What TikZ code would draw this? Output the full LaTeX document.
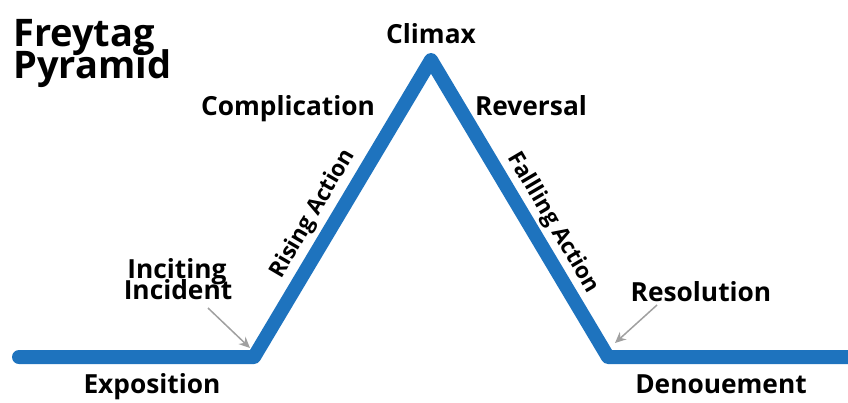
\documentclass[tikz,border=0pt]{standalone}
\usepackage{fontspec}
\setmainfont{Open Sans}
\usetikzlibrary{arrows.meta}
\definecolor{pyrblue}{RGB}{30,115,190}
\definecolor{arrgray}{RGB}{160,160,160}
\begin{document}
\begin{tikzpicture}[x=1pt,y=-1pt,
  lbl/.style={font=\fontsize{26.3}{30}\selectfont\bfseries, inner sep=0pt, text=black},
  rlbl/.style={font=\fontsize{22.5}{26}\selectfont\bfseries, inner sep=0pt, text=black},
  ttl/.style={font=\fontsize{38}{40}\selectfont\bfseries, inner sep=0pt, anchor=base west},
  pyr/.style={draw=pyrblue, line width=14pt, line join=round, line cap=round},
  ptr/.style={draw=arrgray, line width=1.5pt, -{Stealth[length=11pt,width=10pt]}}]
\useasboundingbox (0,0) rectangle (848,402);
% path points
\coordinate (L0) at (19,357);
\coordinate (LC) at (254,357);
\coordinate (P)  at (431,60);
\coordinate (RC) at (608,357);
\coordinate (R0) at (860,357);
\path[pyr] (L0) -- (LC) -- (P) -- (RC) -- (R0);
\useasboundingbox (0,0) rectangle (848,402);
% title
\node[ttl] (t1) at (13,46) {Freytag};
\node[ttl] (t2) at (13,78) {Pyramid};
% labels
\node[lbl, anchor=base] (climax) at (431,43) {Climax};
\node[lbl, anchor=base] (compl) at (288,115) {Complication};
\node[lbl, anchor=base] (rev) at (531,115) {Reversal};
\node[rlbl, rotate=59.5] (rise) at (313,214) {Rising Action};
\node[rlbl, rotate=-59.5] (fall) at (553,223) {Fallling Action};
\node[lbl, anchor=base] (inc1) at (177,278) {Inciting};
\node[lbl, anchor=base] (inc2) at (178,299) {Incident};
\node[lbl, anchor=base] (res) at (701,301) {Resolution};
\node[lbl, anchor=base] (expo) at (152,393) {Exposition};
\node[lbl, anchor=base] (den) at (721,393) {Denouement};
% arrows
\coordinate (ia) at (208,308);
\coordinate (ib) at (250,348);
\coordinate (ra) at (657,305);
\coordinate (rb) at (615,343);
\draw[ptr] (ia) -- (ib);
\draw[ptr] (ra) -- (rb);
\end{tikzpicture}
\end{document}
